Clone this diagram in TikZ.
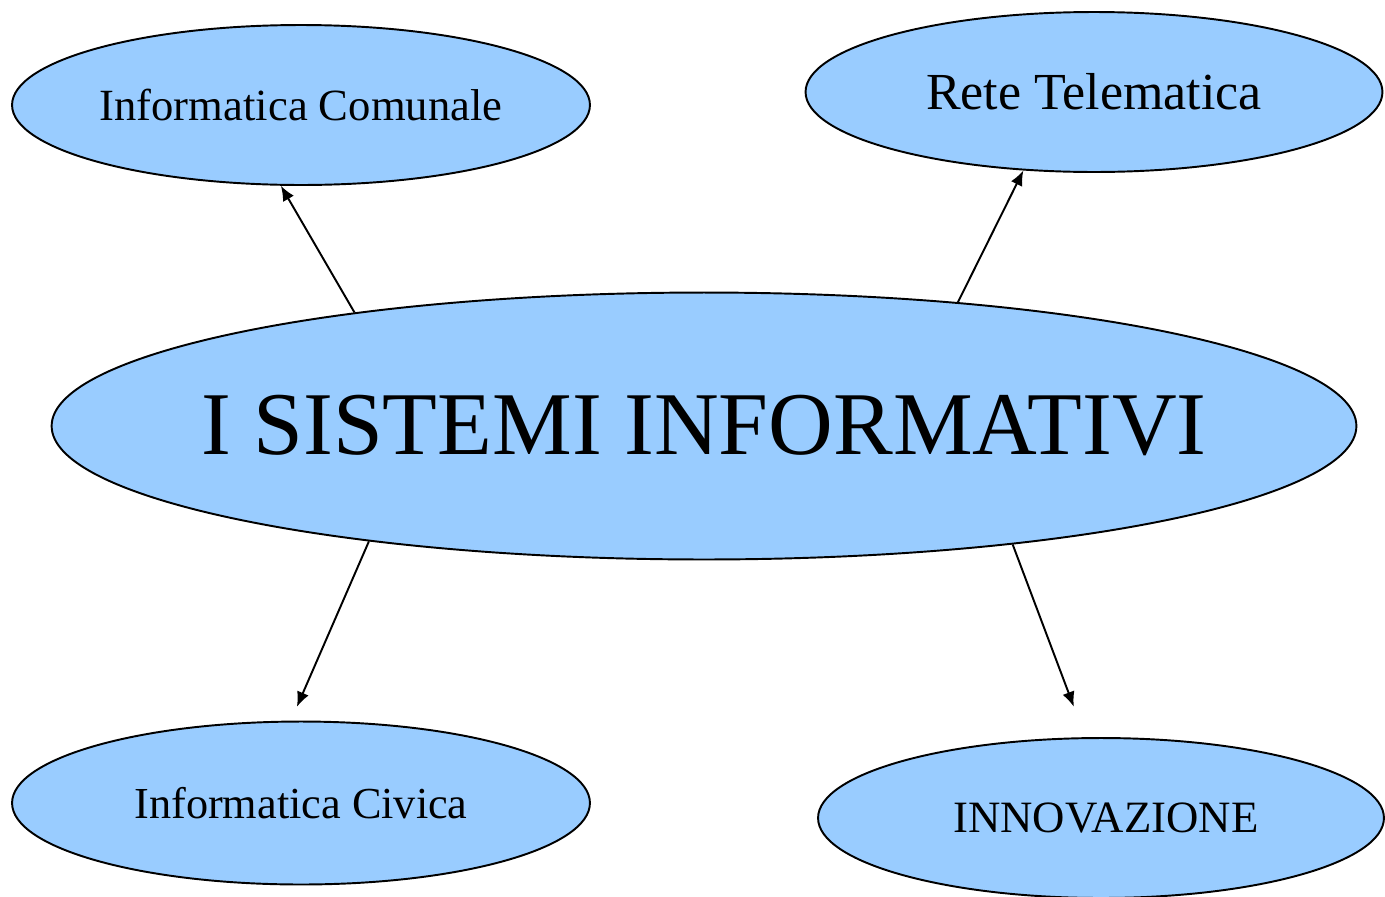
\documentclass[tikz,border=0pt]{standalone}
\usepackage{fontspec}
\setmainfont{Liberation Serif}
\usetikzlibrary{shapes.geometric, arrows.meta}
\definecolor{bolla}{HTML}{99CCFF}

\begin{document}
\begin{tikzpicture}[x=0.02cm, y=-0.02cm]
    \tikzset{>={Latex[length=0.3cm, width=0.25cm]}}
    \tikzset{bollastyle/.style={ellipse, draw, line width=1.1pt, fill=bolla, inner sep=0pt}}
    \tikzset{freccia/.style={->, line width=1.1pt}}
    \useasboundingbox (0,0) rectangle (1385,896);
    \clip (0,0) rectangle (1385,896);

    \node (main) at (704,426) [bollastyle, inner xsep=-1.2cm, minimum width=26.1cm, minimum height=5.34cm] {\fontsize{51}{60}\selectfont I SISTEMI INFORMATIVI};
    \node (comunale) at (301,105) [bollastyle, inner xsep=-0.5cm, minimum width=11.56cm, minimum height=3.2cm] {\fontsize{25.4}{30}\selectfont Informatica Comunale};
    \node (rete) at (1094,92) [bollastyle, minimum width=11.54cm, minimum height=3.2cm] {\fontsize{29.6}{34}\selectfont Rete Telematica};
    \node (civica) at (301,803) [bollastyle, minimum width=11.56cm, minimum height=3.26cm] {\fontsize{25.2}{30}\selectfont Informatica Civica};
    \node (innov) at (1101,818) [bollastyle, minimum width=11.32cm, minimum height=3.2cm] {\fontsize{25.5}{30}\selectfont \hspace{0.2cm}INNOVAZIONE};

    \draw [freccia] (main.162) -- (comunale.256);
    \draw [freccia] (main.26.8) -- (rete.228);
    \draw [freccia, shorten >=0.3cm] (main.199.2) -- (civica.97.6);
    \draw [freccia, shorten >=0.65cm] (main.339.2) -- (innov.101.3);
\end{tikzpicture}
\end{document}
